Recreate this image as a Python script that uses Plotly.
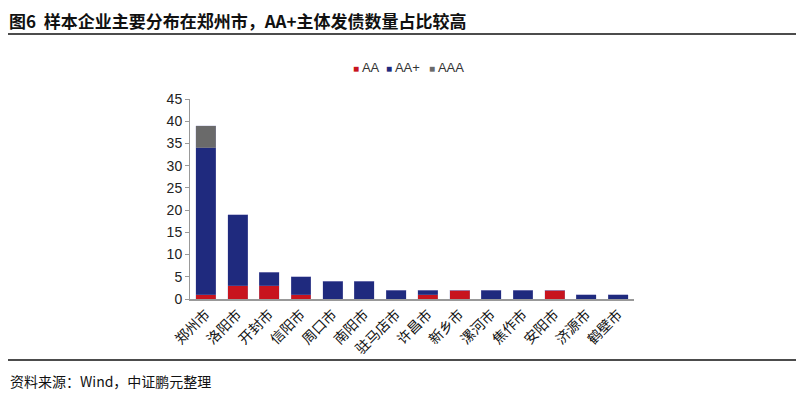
import plotly.graph_objects as go

cities = ["郑州市", "洛阳市", "开封市", "信阳市", "周口市", "南阳市", "驻马店市",
          "许昌市", "新乡市", "漯河市", "焦作市", "安阳市", "济源市", "鹤壁市"]
aa = [1, 3, 3, 1, 0, 0, 0, 1, 2, 0, 0, 2, 0, 0]
aa_plus = [33, 16, 3, 4, 4, 4, 2, 1, 0, 2, 2, 0, 1, 1]
aaa = [5, 0, 0, 0, 0, 0, 0, 0, 0, 0, 0, 0, 0, 0]
series_names = ["AA", "AA+", "AAA"]
series_colors = ["#C8141E", "#1F2A7E", "#6A6A6A"]

OFF = 8  # page body margin
W, H = 804 - OFF, 395 - OFF
L, R, T, B = 190 - OFF, 170, 99 - OFF, 96
pw, ph = W - L - R, H - T - B


def px(x):
    return (x - OFF - L) / pw


def py(y):
    return (H - B - (y - OFF)) / ph


fig = go.Figure()
for name, vals, col in zip(series_names, [aa, aa_plus, aaa], series_colors):
    fig.add_bar(x=cities, y=vals, name=name, marker_color=col,
                marker_line=dict(color="rgba(150,150,200,0.5)", width=0.5))

fig.update_layout(
    width=W, height=H,
    margin=dict(l=L, r=R, t=T, b=B, pad=0),
    barmode="stack", bargap=0.37,
    plot_bgcolor="white", paper_bgcolor="white",
    font=dict(family="Liberation Sans, Arial, Noto Sans CJK SC", size=14, color="#222"),
    showlegend=False,
)
fig.update_xaxes(showline=True, linecolor="#999", linewidth=1.5, ticks="", tickangle=-45,
                 tickfont=dict(family="Noto Sans CJK SC", size=14, color="#111"),
                 showgrid=False, fixedrange=True)
fig.update_yaxes(range=[0, 45], dtick=5, showline=True, linecolor="#999", linewidth=1,
                 ticks="outside", ticklen=4, tickcolor="#999", showgrid=False,
                 tickfont=dict(family="Liberation Sans, Arial", size=14, color="#222"),
                 zeroline=False)

# legend drawn as text items
leg_x = [351, 384, 427]
for xx, name, col in zip(leg_x, series_names, series_colors):
    fig.add_annotation(xref="paper", yref="paper", x=px(xx), y=py(67), xanchor="left",
                       yanchor="middle", showarrow=False,
                       text=f"<span style='color:{col};font-size:10px'>■</span> {name}",
                       font=dict(family="Liberation Sans Narrow, Liberation Sans", size=13,
                                 color="#333"))

fig.add_shape(type="line", xref="paper", yref="paper", x0=px(0), x1=px(804), y0=py(34), y1=py(34),
              line=dict(color="#111", width=1.5))
fig.add_shape(type="line", xref="paper", yref="paper", x0=px(0), x1=px(804), y0=py(360), y1=py(360),
              line=dict(color="#111", width=1.5))
fig.add_annotation(xref="paper", yref="paper", x=px(8), y=py(20), xanchor="left", yanchor="middle",
                   text="<b>图6  样本企业主要分布在郑州市，AA+主体发债数量占比较高</b>", showarrow=False,
                   borderpad=0,
                   font=dict(family="Noto Sans CJK SC", size=17, color="#111"))
fig.add_annotation(xref="paper", yref="paper", x=px(8), y=py(381), xanchor="left", yanchor="middle",
                   text="资料来源：Wind，中证鹏元整理", showarrow=False,
                   font=dict(family="Noto Sans CJK SC", size=14, color="#111"))

fig.write_html("out.html")
